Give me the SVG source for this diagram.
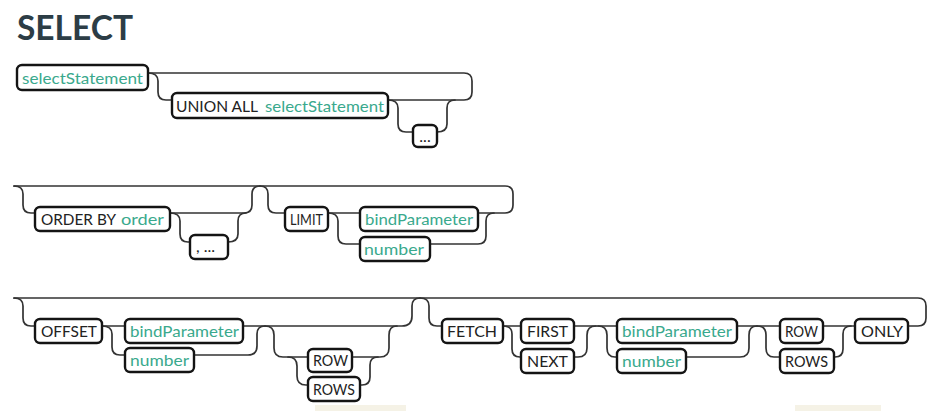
<svg xmlns="http://www.w3.org/2000/svg" width="938" height="411" viewBox="0 0 938 411">
<style>
.t{fill:none;stroke:#333;stroke-width:1.7;stroke-linejoin:round;stroke-linecap:round}
.b{fill:#fff;stroke:#141414;stroke-width:2.4}
.k{font-family:Lato,"Open Sans",sans-serif;font-size:16px;fill:#222}
.i{font-family:Lato,"Open Sans",sans-serif;font-size:16px;fill:#3aa98d}
.h{font-family:Lato,"Open Sans",sans-serif;font-size:35px;font-weight:bold;fill:#2c3d46}
</style>
<rect width="938" height="411" fill="#fff"/>
<rect x="315" y="405" width="91" height="6" fill="#f5f2e6"/>
<rect x="795" y="405" width="86" height="6" fill="#f5f2e6"/>
<text class="h" x="17" y="40" textLength="116" lengthAdjust="spacingAndGlyphs">SELECT</text>

<g id="connectors">
<!-- row 1 -->
<path class="t" d="M148,73 H464 Q472,73 472,81 V92 Q472,100 464,100 H388"/>
<path class="t" d="M148,73 Q158,73 158,81 V92 Q158,100 166,100 H172"/>
<path class="t" d="M388,100 Q398,100 398,108 V124 Q398,132 406,132 H413"/>
<path class="t" d="M437,132 Q447,132 447,124 V108 Q447,100 455,100"/>
<!-- row 2 -->
<path class="t" d="M14,186 H505 Q513,186 513,194 V205 Q513,213 505,213 H478"/>
<path class="t" d="M14,186 Q23,186 23,194 V205 Q23,213 31,213 H35"/>
<path class="t" d="M170,213 H244 Q252,213 252,205 V194 Q252,186 260,186"/>
<path class="t" d="M170,213 Q180,213 180,221 V234 Q180,242 188,242 H190"/>
<path class="t" d="M228,242 Q238,242 238,234 V221 Q238,213 246,213"/>
<path class="t" d="M260,186 Q268,186 268,194 V205 Q268,213 276,213 H285"/>
<path class="t" d="M328,213 H360"/>
<path class="t" d="M328,213 Q338,213 338,221 V236 Q338,244 346,244 H360"/>
<path class="t" d="M430,244 H478 Q486,244 486,236 V221 Q486,213 494,213"/>
<!-- row 3 left -->
<path class="t" d="M14,298 H918 Q926,298 926,306 V318 Q926,326 918,326 H908"/>
<path class="t" d="M14,298 Q23,298 23,306 V318 Q23,326 31,326 H35"/>
<path class="t" d="M102,326 H125"/>
<path class="t" d="M102,326 Q112,326 112,334 V347 Q112,355 120,355 H125"/>
<path class="t" d="M243,326 H402 Q412,326 412,316 V306 Q412,298 420,298"/>
<path class="t" d="M194,355 H248 Q257,355 257,346 V334 Q257,326 265,326"/>
<path class="t" d="M265,326 Q274,326 274,335 V348 Q274,357 283,357 H308"/>
<path class="t" d="M288,357 Q297,357 297,366 V376 Q297,385 306,385 H308"/>
<path class="t" d="M352,357 H380 Q389,357 389,348 V335 Q389,326 397,326"/>
<path class="t" d="M360,385 H362 Q370,385 370,377 V365 Q370,357 378,357"/>
<!-- row 3 right -->
<path class="t" d="M420,298 Q429,298 429,306 V318 Q429,326 437,326 H442"/>
<path class="t" d="M503,326 H521"/>
<path class="t" d="M503,326 Q512,326 512,334 V349 Q512,357 520,357 H521"/>
<path class="t" d="M574,326 H617"/>
<path class="t" d="M574,357 H578 Q587,357 587,348 V335 Q587,326 596,326"/>
<path class="t" d="M598,326 Q607,326 607,335 V348 Q607,357 615,357 H617"/>
<path class="t" d="M737,326 H780"/>
<path class="t" d="M686,357 H740 Q749,357 749,348 V335 Q749,326 757,326"/>
<path class="t" d="M757,326 Q766,326 766,335 V348 Q766,357 774,357 H780"/>
<path class="t" d="M823,326 H855"/>
<path class="t" d="M834,357 H835 Q843,357 843,349 V334 Q843,326 851,326"/>
</g>

<g id="n-select1"><rect class="b" x="17" y="65" width="131" height="25" rx="5"/><text class="i" x="22" y="83.5" textLength="121" lengthAdjust="spacingAndGlyphs">selectStatement</text></g>
<g id="n-union"><rect class="b" x="172" y="93" width="216" height="25" rx="5"/><text class="k" x="176" y="111.5" textLength="82" lengthAdjust="spacingAndGlyphs">UNION ALL</text><text class="i" x="265" y="111.5" textLength="119" lengthAdjust="spacingAndGlyphs">selectStatement</text></g>
<g id="n-dots1"><rect class="b" x="413" y="125" width="24" height="22" rx="5"/><text class="k" x="425" y="142" text-anchor="middle">...</text></g>

<g id="n-orderby"><rect class="b" x="35" y="207" width="135" height="24" rx="5"/><text class="k" x="41" y="225" textLength="75" lengthAdjust="spacingAndGlyphs">ORDER BY</text><text class="i" x="121" y="225" textLength="43" lengthAdjust="spacingAndGlyphs">order</text></g>
<g id="n-commadots"><rect class="b" x="190" y="235" width="38" height="24" rx="5"/><text class="k" x="196" y="252">, ...</text></g>
<g id="n-limit"><rect class="b" x="285" y="207" width="43" height="24" rx="5"/><text class="k" x="290" y="225" textLength="33" lengthAdjust="spacingAndGlyphs">LIMIT</text></g>
<g id="n-bind1"><rect class="b" x="360" y="207" width="118" height="24" rx="5"/><text class="i" x="365" y="225" textLength="108" lengthAdjust="spacingAndGlyphs">bindParameter</text></g>
<g id="n-number1"><rect class="b" x="360" y="237" width="70" height="24" rx="5"/><text class="i" x="364" y="255" textLength="60" lengthAdjust="spacingAndGlyphs">number</text></g>

<g id="n-offset"><rect class="b" x="35" y="319" width="67" height="24" rx="5"/><text class="k" x="41" y="337" textLength="56" lengthAdjust="spacingAndGlyphs">OFFSET</text></g>
<g id="n-bind2"><rect class="b" x="125" y="319" width="118" height="24" rx="5"/><text class="i" x="130" y="337" textLength="109" lengthAdjust="spacingAndGlyphs">bindParameter</text></g>
<g id="n-number2"><rect class="b" x="125" y="348" width="69" height="24" rx="5"/><text class="i" x="130" y="366" textLength="59" lengthAdjust="spacingAndGlyphs">number</text></g>
<g id="n-row1"><rect class="b" x="308" y="349" width="44" height="23" rx="5"/><text class="k" x="313" y="366" textLength="35" lengthAdjust="spacingAndGlyphs">ROW</text></g>
<g id="n-rows1"><rect class="b" x="308" y="377" width="52" height="24" rx="5"/><text class="k" x="313" y="395" textLength="42" lengthAdjust="spacingAndGlyphs">ROWS</text></g>

<g id="n-fetch"><rect class="b" x="442" y="319" width="61" height="24" rx="5"/><text class="k" x="447" y="337" textLength="50" lengthAdjust="spacingAndGlyphs">FETCH</text></g>
<g id="n-first"><rect class="b" x="521" y="319" width="53" height="24" rx="5"/><text class="k" x="527" y="337" textLength="41" lengthAdjust="spacingAndGlyphs">FIRST</text></g>
<g id="n-next"><rect class="b" x="521" y="349" width="53" height="24" rx="5"/><text class="k" x="527" y="367" textLength="41" lengthAdjust="spacingAndGlyphs">NEXT</text></g>
<g id="n-bind3"><rect class="b" x="617" y="319" width="120" height="24" rx="5"/><text class="i" x="622" y="337" textLength="110" lengthAdjust="spacingAndGlyphs">bindParameter</text></g>
<g id="n-number3"><rect class="b" x="617" y="349" width="69" height="24" rx="5"/><text class="i" x="622" y="367" textLength="59" lengthAdjust="spacingAndGlyphs">number</text></g>
<g id="n-row2"><rect class="b" x="780" y="319" width="43" height="24" rx="5"/><text class="k" x="785" y="337" textLength="33" lengthAdjust="spacingAndGlyphs">ROW</text></g>
<g id="n-rows2"><rect class="b" x="780" y="349" width="54" height="24" rx="5"/><text class="k" x="785" y="367" textLength="43" lengthAdjust="spacingAndGlyphs">ROWS</text></g>
<g id="n-only"><rect class="b" x="855" y="319" width="53" height="24" rx="5"/><text class="k" x="861" y="337" textLength="42" lengthAdjust="spacingAndGlyphs">ONLY</text></g>
</svg>
